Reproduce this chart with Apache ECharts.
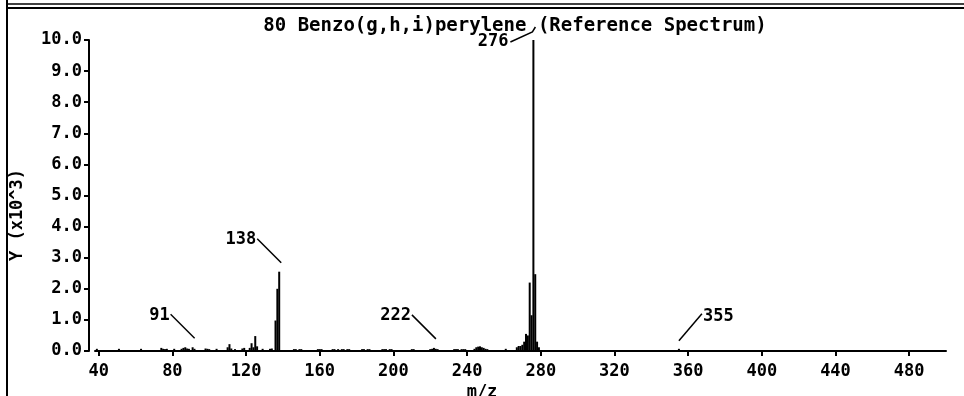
<!DOCTYPE html>
<html>
<head>
<meta charset="utf-8">
<script src="https://cdn.jsdelivr.net/npm/echarts@6/dist/echarts.min.js"></script>
<style>
  html, body { margin: 0; padding: 0; background: #fff; }
  #main { width: 964px; height: 396px; }
</style>
</head>
<body>
<div id="main"></div>
<script>
// spectrum peaks, m/z and abundance (x10^3)
const mzValues = [
  39, 51, 63, 74, 75, 76, 77, 81, 85, 86, 87, 88, 89, 91, 92,
  98, 99, 100, 104, 110, 111, 112, 114, 118, 119,
  122, 123, 124, 125, 126, 129, 133, 134, 136, 137, 138,
  146, 147, 149, 150, 159, 160, 161,
  167, 168, 170, 172, 173, 175, 176, 183, 184, 186, 187,
  194, 195, 196, 198, 199, 210, 211,
  220, 221, 222, 223, 224, 233, 234, 235, 237, 238, 239,
  244, 245, 246, 247, 248, 249, 250, 251, 261,
  267, 268, 269, 270, 271, 272, 273, 274, 275, 276, 277, 278, 279,
  355
];
const abundance = [
  0.07, 0.07, 0.07, 0.1, 0.07, 0.06, 0.07, 0.07, 0.07, 0.1, 0.12, 0.08, 0.07, 0.12, 0.07,
  0.08, 0.07, 0.06, 0.07, 0.12, 0.22, 0.08, 0.06, 0.08, 0.1,
  0.1, 0.25, 0.12, 0.48, 0.15, 0.07, 0.07, 0.08, 0.98, 2.0, 2.55,
  0.06, 0.06, 0.06, 0.06, 0.06, 0.06, 0.06,
  0.06, 0.06, 0.06, 0.06, 0.06, 0.06, 0.06, 0.06, 0.06, 0.06, 0.06,
  0.06, 0.06, 0.06, 0.06, 0.06, 0.06, 0.06,
  0.06, 0.07, 0.1, 0.07, 0.06, 0.06, 0.06, 0.06, 0.06, 0.06, 0.06,
  0.07, 0.12, 0.14, 0.15, 0.12, 0.1, 0.07, 0.06, 0.07,
  0.12, 0.16, 0.16, 0.2, 0.3, 0.55, 0.5, 2.2, 1.15, 10.0, 2.47, 0.3, 0.12,
  0.07
];
// labelled peaks
const labelledMz = [91, 138, 222, 276, 355];
const xTicks = [40, 80, 120, 160, 200, 240, 280, 320, 360, 400, 440, 480];
const yTicks = [0, 1, 2, 3, 4, 5, 6, 7, 8, 9, 10];

const titleText = '80 Benzo(g,h,i)perylene (Reference Spectrum)';
const FONT = 'DejaVu Sans Mono';

const peakData = mzValues.map((m, i) => [m, abundance[i]]);
const labelData = labelledMz.map(m => [m, abundance[mzValues.indexOf(m)]]);
const basePeak = Math.max(...abundance);

const chart = echarts.init(document.getElementById('main'));

chart.setOption({
  animation: false,
  backgroundColor: '#fff',
  title: {
    text: titleText,
    left: 510,
    textAlign: 'center',
    top: 12,
    textStyle: { fontFamily: FONT, fontSize: 19, fontWeight: 'bold', color: '#000' }
  },
  grid: { left: 95, right: 18, top: 40, bottom: 45 },
  xAxis: {
    type: 'value',
    min: 38,
    max: 500,
    offset: 5,
    splitLine: { show: false },
    axisLine: { lineStyle: { color: '#000', width: 2 } },
    axisTick: { customValues: xTicks, length: 5, lineStyle: { color: '#000', width: 2 } },
    axisLabel: {
      customValues: xTicks,
      margin: 7,
      fontFamily: FONT, fontSize: 17, fontWeight: 'bold', color: '#000'
    }
  },
  yAxis: {
    type: 'value',
    min: 0,
    max: 10,
    interval: 1,
    offset: 6,
    splitLine: { show: false },
    axisLine: { show: true, lineStyle: { color: '#000', width: 2 } },
    axisTick: { show: true, customValues: yTicks, length: 5, lineStyle: { color: '#000', width: 2 } },
    axisLabel: {
      customValues: yTicks,
      margin: 7,
      formatter: v => v.toFixed(1),
      fontFamily: FONT, fontSize: 17, fontWeight: 'bold', color: '#000'
    }
  },
  graphic: [
    // scanned frame edges
    { type: 'line', shape: { x1: 7, y1: 0, x2: 7, y2: 396 }, style: { stroke: '#000', lineWidth: 2 } },
    { type: 'line', shape: { x1: 7, y1: 4, x2: 964, y2: 4 }, style: { stroke: '#000', lineWidth: 1.5 } },
    { type: 'line', shape: { x1: 7, y1: 8, x2: 964, y2: 8 }, style: { stroke: '#000', lineWidth: 2 } },
    {
      type: 'text', x: 18, y: 215, rotation: Math.PI / 2,
      style: { text: 'Y (x10^3)', fontFamily: FONT, fontSize: 17, fontWeight: 'bold', fill: '#000', align: 'center', verticalAlign: 'middle' }
    },
    {
      type: 'text', x: 482, y: 384,
      style: { text: 'm/z', fontFamily: FONT, fontSize: 17, fontWeight: 'bold', fill: '#000', align: 'center', verticalAlign: 'top' }
    }
  ],
  series: [
    {
      type: 'bar',
      data: peakData,
      barWidth: 2,
      itemStyle: { color: '#000' },
      silent: true
    },
    {
      type: 'custom',
      clip: false,
      silent: true,
      data: labelData,
      encode: { x: 0, y: 1 },
      renderItem: function (params, api) {
        const m = api.value(0);
        const p = api.coord([m, api.value(1)]);
        const txt = { fontFamily: FONT, fontSize: 17, fontWeight: 'bold', fill: '#000', verticalAlign: 'middle' };
        let pts, tx, ty, align;
        if (api.value(1) === basePeak) {
          pts = [[p[0] + 2, p[1] - 13], [p[0] - 1, p[1] - 8], [p[0] - 23, p[1] + 2]];
          tx = p[0] - 25; ty = p[1] + 2; align = 'right';
        } else if (m > 300) {
          pts = [[p[0], p[1] - 8], [p[0] + 23, p[1] - 35]];
          tx = p[0] + 24; ty = p[1] - 32; align = 'left';
        } else {
          pts = [[p[0] + 2, p[1] - 9], [p[0] - 22, p[1] - 33]];
          tx = p[0] - 23; ty = p[1] - 32; align = 'right';
        }
        return {
          type: 'group',
          children: [
            { type: 'polyline', shape: { points: pts }, style: { stroke: '#000', lineWidth: 1.5, fill: null } },
            { type: 'text', x: tx, y: ty, style: Object.assign({ text: String(m), align: align }, txt) }
          ]
        };
      }
    }
  ]
});
</script>
</body>
</html>
